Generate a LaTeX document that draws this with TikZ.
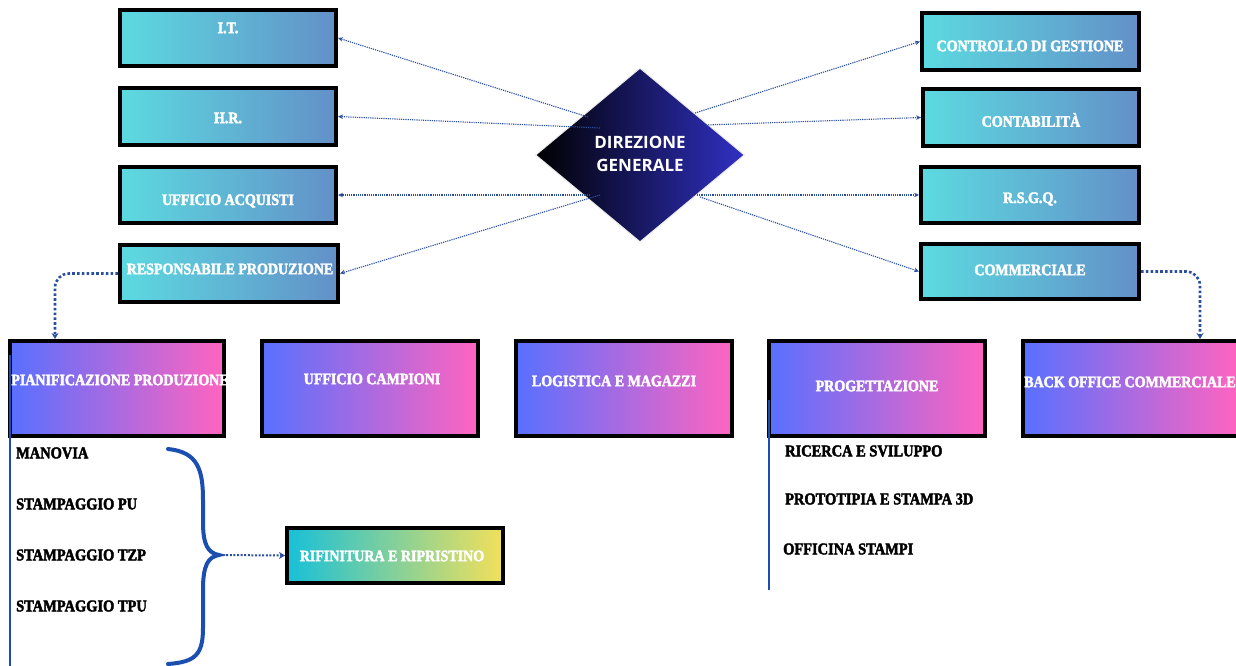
\documentclass[tikz,border=0pt]{standalone}
\usepackage{fontspec}
\setmainfont{Liberation Serif}
\newfontfamily\dgfont{Open Sans}
\newfontfamily\boxfont[FakeStretch=0.875, BoldFeatures={FakeBold=2.5}]{Liberation Serif}
\usetikzlibrary{arrows.meta,shapes.geometric}
\definecolor{cyanL}{HTML}{5CDAE0}
\definecolor{cyanR}{HTML}{6390C8}
\definecolor{pinkL}{HTML}{5870FF}
\definecolor{pinkR}{HTML}{FF64C0}
\definecolor{rifL}{HTML}{18C0D8}
\definecolor{rifR}{HTML}{F2E05A}
\definecolor{dgR}{HTML}{3030C4}
\definecolor{conn}{HTML}{2A4F9E}
\definecolor{brace}{HTML}{1A4EB0}
\tikzset{
  topbox/.style={draw=black, line width=4pt, left color=cyanL, right color=cyanR, inner sep=0pt, minimum width=216pt, minimum height=56pt},
  botbox/.style={draw=black, line width=4pt, left color=pinkL, right color=pinkR, inner sep=0pt, minimum width=215pt, minimum height=95pt},
  rifbox/.style={draw=black, line width=4pt, left color=rifL, right color=rifR, inner sep=0pt, minimum width=216pt, minimum height=55pt},
  boxtext/.style={text=white, font=\boxfont\bfseries\fontsize{16}{18}\selectfont, inner sep=0pt},
  listtext/.style={text=black, font=\boxfont\bfseries\fontsize{16.5}{18}\selectfont, inner sep=0pt, anchor=west},
  thinconn/.style={draw=conn, line width=1.1pt, dash pattern=on 1.2pt off 1pt, -{Stealth[length=5pt,width=4.5pt]}},
  thickconn/.style={draw=conn, line width=2.6pt, dash pattern=on 2.6pt off 2.2pt, rounded corners=14pt, -{Stealth[length=6pt,width=7pt]}},
  blueline/.style={draw=brace, line width=2.5pt},
}
\begin{document}
\begin{tikzpicture}[x=1pt,y=-1pt]
\useasboundingbox (0,0) rectangle (1236,666);
% top-left boxes
\node[topbox] (it) at (228,38) {};
\node[topbox, minimum height=57pt] (hr) at (228,116.5) {};
\node[topbox] (acq) at (228,195) {};
\node[topbox, minimum width=218pt, minimum height=57pt] (resp) at (229,273.5) {};
% top-right boxes
\node[topbox, minimum width=217pt, minimum height=57pt] (ctrl) at (1030.5,41.5) {};
\node[topbox, minimum height=57pt] (cont) at (1031,117.5) {};
\node[topbox, minimum width=218pt] (rsgq) at (1030,195) {};
\node[topbox, minimum width=218pt, minimum height=55pt] (comm) at (1030,271.5) {};
\node[boxtext] (tit) at (228,28) {I.T.};
\node[boxtext] (thr) at (228,118) {H.R.};
\node[boxtext] (tacq) at (228,201) {UFFICIO ACQUISTI};
\node[boxtext] (tresp) at (230,269) {RESPONSABILE PRODUZIONE};
\node[boxtext] (tctrl) at (1030,46) {CONTROLLO DI GESTIONE};
\node[boxtext] (tcont) at (1031,120) {CONTABILITÀ};
\node[boxtext] (trsgq) at (1030,199) {R.S.G.Q.};
\node[boxtext] (tcomm) at (1030,270) {COMMERCIALE};
% diamond
\node[diamond, draw=white!85!gray, line width=1pt, left color=black, right color=dgR, inner sep=0pt, minimum width=209pt, minimum height=174pt] (dg) at (640,155) {};
\node[text=white, font=\dgfont\bfseries\fontsize{17}{23}\selectfont, align=center, inner sep=0pt] (tdg) at (640,154) {DIREZIONE\\GENERALE};
% connector start points inside the diamond
\coordinate (s1) at (588,117);
\coordinate (s2) at (600,128);
\coordinate (s3) at (590,195);
\coordinate (s4) at (600,195);
\coordinate (s5) at (695,113);
\coordinate (s6) at (706,125);
\coordinate (s7) at (697,195);
\coordinate (s8) at (700,197);
\draw[thinconn] (s1) -- (it.east);
\draw[thinconn] (s2) -- (hr.east);
\draw[thinconn] (s3) -- (acq.east);
\draw[thinconn] (s4) -- (resp.east);
\draw[thinconn] (s5) -- (ctrl.west);
\draw[thinconn] (s6) -- (cont.west);
\draw[thinconn] (s7) -- (rsgq.west);
\draw[thinconn] (s8) -- (comm.west);
% bottom row
\node[botbox, minimum width=214pt] (pian) at (117,388.5) {};
\node[botbox, minimum width=216pt] (camp) at (370,388.5) {};
\node[botbox, minimum width=216pt] (logi) at (624,388.5) {};
\node[botbox, minimum width=216pt] (prog) at (877,388.5) {};
\node[botbox, minimum width=216pt] (bo) at (1131,388.5) {};
\node[boxtext] (tpian) at (120,380) {PIANIFICAZIONE PRODUZIONE};
\node[boxtext] (tcamp) at (372,379) {UFFICIO CAMPIONI};
\node[boxtext] (tlogi) at (614,381) {LOGISTICA E MAGAZZI};
\node[boxtext] (tprog) at (877,386) {PROGETTAZIONE};
\node[boxtext] (tbo) at (1130,382) {BACK OFFICE COMMERCIALE};
% thick dotted connectors
\draw[thickconn] (resp.west) -| ([xshift=47pt]pian.north west);
\draw[thickconn] (comm.east) -| ([xshift=179pt]bo.north west);
% vertical blue lines
\coordinate (v1a) at (10,355);
\coordinate (v1b) at (10,666);
\coordinate (v2a) at (769,400);
\coordinate (v2b) at (769,590);
\draw[blueline] (v1a) -- (v1b);
\draw[blueline] (v2a) -- (v2b);
% lists
\node[listtext] (l1) at (16,453) {MANOVIA};
\node[listtext] (l2) at (16,504) {STAMPAGGIO PU};
\node[listtext] (l3) at (16,555) {STAMPAGGIO TZP};
\node[listtext] (l4) at (16,606) {STAMPAGGIO TPU};
\node[listtext] (r1) at (785,451) {RICERCA E SVILUPPO};
\node[listtext] (r2) at (785,499) {PROTOTIPIA E STAMPA 3D};
\node[listtext] (r3) at (783,549) {OFFICINA STAMPI};
% brace
\coordinate (btip) at (219,555);
\draw[brace, line width=4pt, line cap=round] (168,449) .. controls (198,452) and (203,470) .. (203,500) -- (203,522) .. controls (203,545) and (208,553) .. (btip) .. controls (208,557) and (203,565) .. (203,590) -- (203,628) .. controls (203,655) and (195,662) .. (168,664);
% rifinitura
\node[rifbox] (rif) at (395,555.5) {};
\node[boxtext] (trif) at (392,556) {RIFINITURA E RIPRISTINO};
\draw[thinconn, line width=2pt, dash pattern=on 2pt off 1.6pt, -{Stealth[length=6pt,width=7pt]}] (btip) -- (rif.west);
\end{tikzpicture}
\end{document}
